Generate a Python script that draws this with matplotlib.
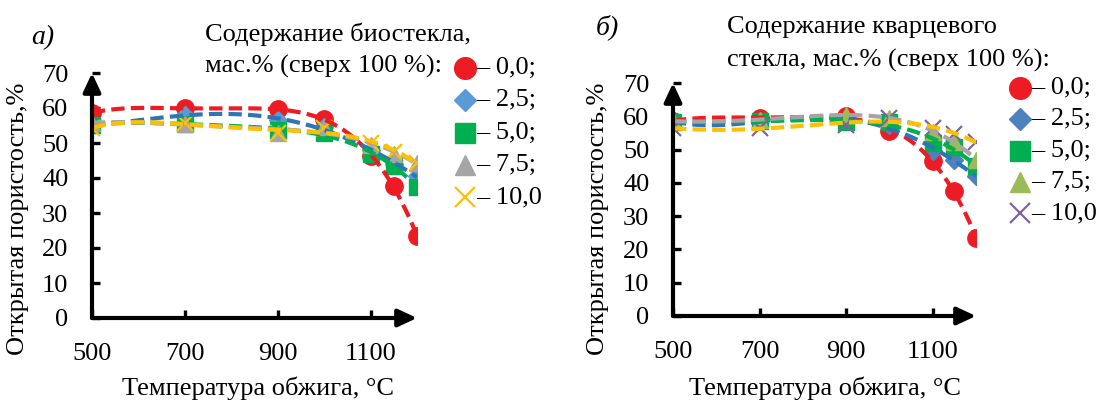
import matplotlib
matplotlib.use("Agg")
import matplotlib.pyplot as plt
from matplotlib.lines import Line2D
import numpy as np

plt.rcParams['font.family'] = ['Liberation Serif', 'DejaVu Serif']
plt.rcParams['font.size'] = 19

temp = [500, 700, 900, 1000, 1100, 1150, 1200]
labels = ['– 0,0;', '– 2,5;', '– 5,0;', '– 7,5;', '– 10,0']

# a) biostekl
bio_0 = [58.6, 59.9, 59.6, 56.8, 46.3, 37.8, 23.4]
bio_25 = [55.0, 58.0, 56.5, 54.5, 48.0, 44.0, 40.5]
bio_50 = [55.1, 55.5, 53.7, 52.8, 47.0, 43.4, 37.5]
bio_75 = [55.7, 55.5, 52.8, 54.5, 49.4, 47.0, 44.4]
bio_10 = [54.3, 55.6, 52.8, 54.3, 50.0, 47.5, 44.4]

# b) quartz glass
kv_0 = [58.6, 59.5, 60.0, 55.5, 46.5, 37.5, 23.5]
kv_25 = [58.5, 58.5, 58.5, 57.5, 49.5, 47.0, 42.0]
kv_50 = [58.4, 58.6, 58.2, 58.4, 51.9, 50.9, 45.0]
kv_75 = [58.5, 59.0, 60.4, 59.5, 55.4, 52.4, 47.0]
kv_10 = [56.4, 56.4, 57.4, 59.4, 56.4, 54.6, 52.4]

ARROW = '-|>,head_length=0.6,head_width=0.28'


def panel(ax, series, mcolors, tcolors, markers, msizes):
    xs = np.linspace(500, 1200, 200)
    t = (np.array(temp) - 850) / 350.0
    ts = (xs - 850) / 350.0
    for vals, tc in zip(series, tcolors):
        p = np.polyfit(t, vals, 4)
        ax.plot(xs, np.polyval(p, ts), color=tc, lw=3.0, ls=(0, (3.2, 1.5)),
                zorder=3)
    handles = []
    for vals, mc, mk, ms in zip(series, mcolors, markers, msizes):
        if mk == 'x':
            h, = ax.plot(temp, vals, ls='none', marker=mk, ms=ms, mec=mc,
                         mew=1.6, zorder=2)
        else:
            h, = ax.plot(temp, vals, ls='none', marker=mk, ms=ms, mfc=mc,
                         mec=mc, zorder=2)
        handles.append(h)
    ax.set_xlim(500, 1200)
    ax.set_ylim(0, 70)
    ax.set_xticks([500, 700, 900, 1100])
    ax.set_yticks(range(0, 80, 10))
    for s in ax.spines.values():
        s.set_visible(False)
    ax.tick_params(axis='both', direction='in', length=6, width=2.4,
                   color='black', labelsize=19)
    ax.tick_params(axis='y', pad=17)
    ax.tick_params(axis='x', pad=18)
    for end in [(1.0, 0), (0, 1.0)]:
        ax.annotate('', xy=end, xytext=(0, 0), xycoords='axes fraction',
                    arrowprops=dict(arrowstyle=ARROW, mutation_scale=19,
                                    lw=3, color='black', shrinkA=0, shrinkB=0),
                    annotation_clip=False)
    return handles


fig = plt.figure(figsize=(10.99, 4.01), dpi=100)
W, H = 1099, 401

ax1 = fig.add_axes([92 / W, 1 - 318 / H, 325 / W, 245 / H])
ax1.set_facecolor('none')
h1 = panel(ax1, [bio_0, bio_25, bio_50, bio_75, bio_10],
           ['#ED1C24', '#5B9BD5', '#00B050', '#A5A5A5', '#FFC000'],
           ['#ED1C24', '#2E75B6', '#00B050', '#A5A5A5', '#FFC000'],
           ['o', 'D', 's', '^', 'x'], [12.5, 9, 11, 11.5, 11])

ax2 = fig.add_axes([673 / W, 1 - 316 / H, 303 / W, 233 / H])
ax2.set_facecolor('none')
h2 = panel(ax2, [kv_0, kv_25, kv_50, kv_75, kv_10],
           ['#ED1C24', '#4F81BD', '#00B050', '#9BBB59', '#8064A2'],
           ['#ED1C24', '#2E75B6', '#00B050', '#A5A5A5', '#FFC000'],
           ['o', 'D', 's', '^', 'x'], [12.5, 9, 11, 11.5, 11])

# legends
for hs, x0, y0, dy in [(h1, 465, 68, 32.3), (h2, 1020, 88, 31.3)]:
    for i, (h, lab) in enumerate(zip(hs, labels)):
        y = y0 + i * dy
        fig.add_artist(Line2D([x0 / W], [1 - y / H], transform=fig.transFigure,
                              marker=h.get_marker(),
                              ms=h.get_markersize() * 1.25,
                              mfc=h.get_markerfacecolor(),
                              mec=h.get_markeredgecolor(),
                              mew=h.get_markeredgewidth(), ls='none'))
        fig.text((x0 + 11) / W, 1 - y / H, lab, ha='left', va='center',
                 fontsize=19)

# titles
fig.text(43 / W, 1 - 38 / H, 'а)', style='italic', ha='center', va='center',
         fontsize=20)
fig.text(205 / W, 1 - 34 / H, 'Содержание биостекла,', ha='left',
         va='center', fontsize=19)
fig.text(205 / W, 1 - 66 / H, 'мас.% (сверх 100 %):', ha='left',
         va='center', fontsize=19)
fig.text(607 / W, 1 - 27 / H, 'б)', style='italic', ha='center', va='center',
         fontsize=20)
fig.text(727 / W, 1 - 27 / H, 'Содержание кварцевого', ha='left',
         va='center', fontsize=19)
fig.text(727 / W, 1 - 60 / H, 'стекла, мас.% (сверх 100 %):', ha='left',
         va='center', fontsize=19)

# axis labels
fig.text(258 / W, 1 - 388 / H, 'Температура обжига, °C', ha='center',
         va='center', fontsize=19)
fig.text(825 / W, 1 - 388 / H, 'Температура обжига, °C', ha='center',
         va='center', fontsize=19)
fig.text(18 / W, 1 - 219 / H, 'Открытая пористость,%', rotation=90,
         ha='center', va='center', fontsize=19)
fig.text(598 / W, 1 - 219 / H, 'Открытая пористость,%', rotation=90,
         ha='center', va='center', fontsize=19)

fig.savefig('out.png', dpi=100)
